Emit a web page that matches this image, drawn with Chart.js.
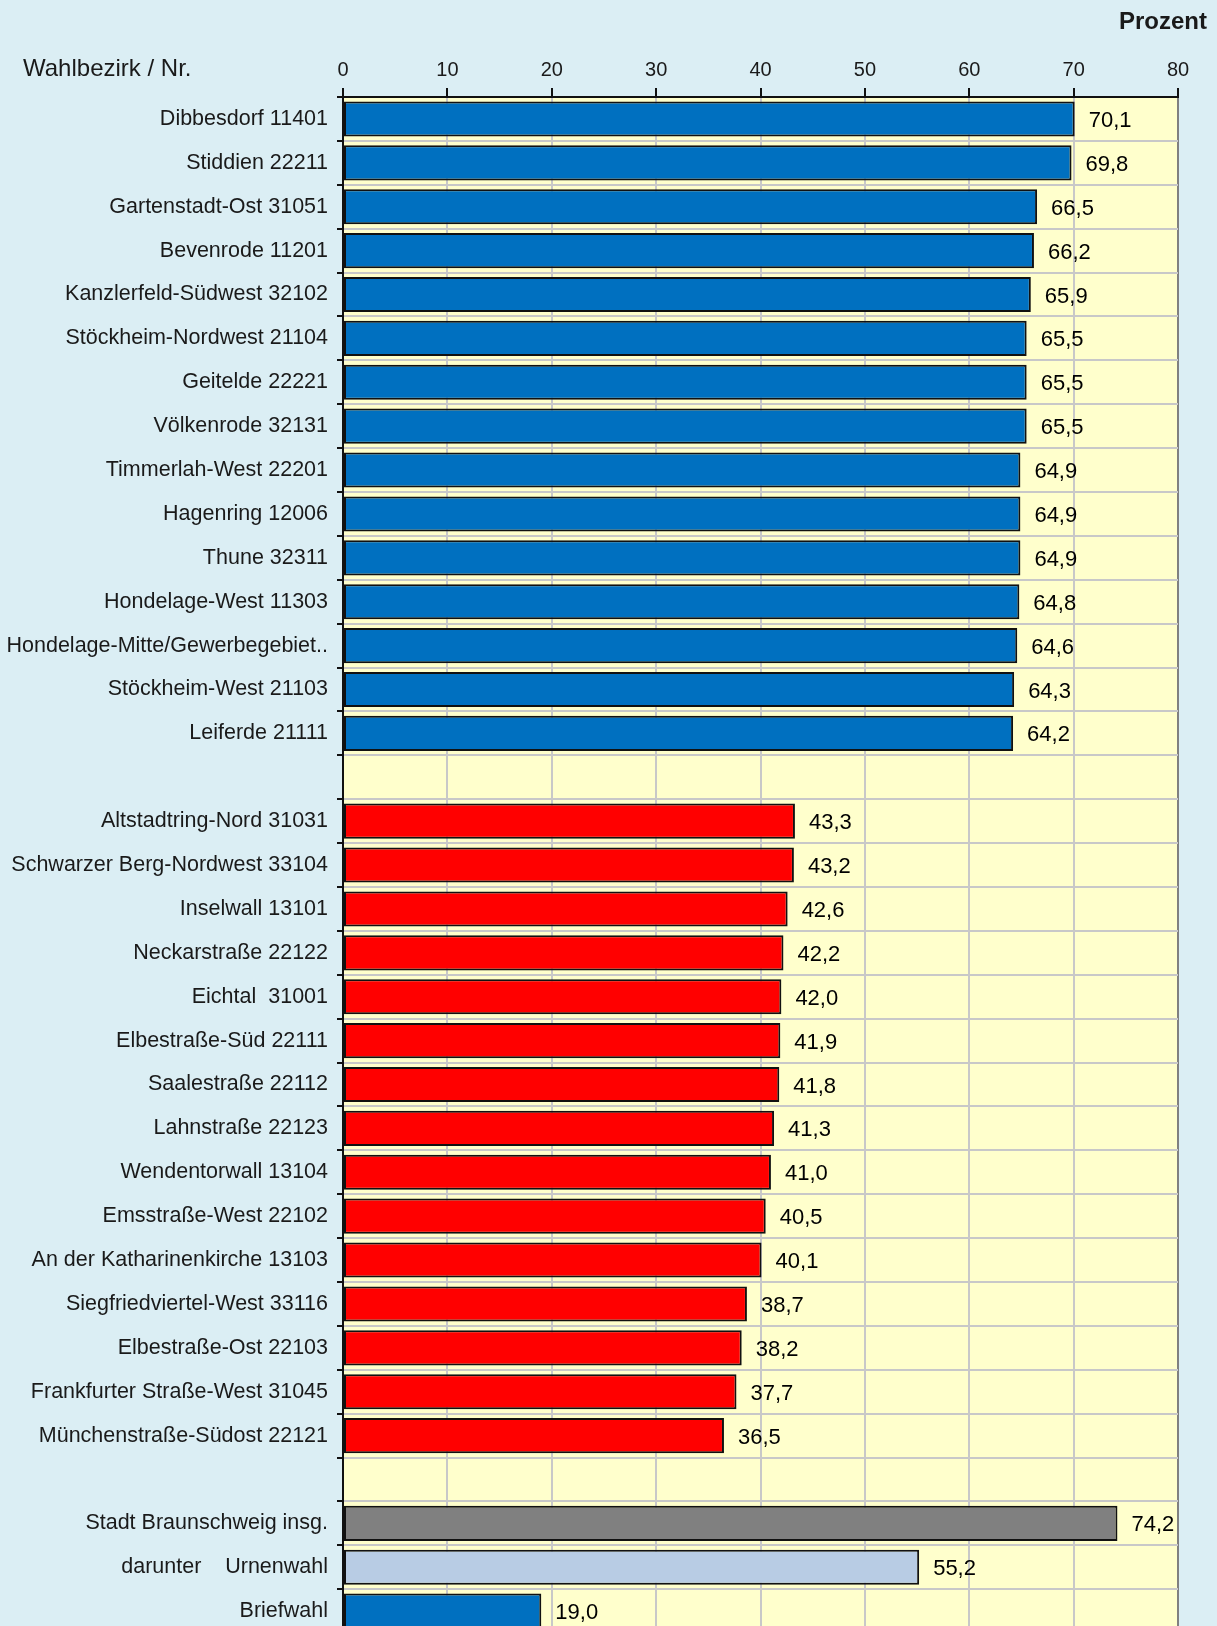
<!DOCTYPE html>
<html>
<head>
<meta charset="utf-8">
<script src="https://cdn.jsdelivr.net/npm/chart.js@4/dist/chart.umd.min.js"></script>
<style>
  html, body { margin: 0; padding: 0; background: #DBEEF4; overflow: hidden; }
  #wrap { position: relative; width: 1217px; height: 1655px; }
  #c { position: absolute; left: 0; top: 0; }
  .lbl { position: absolute; font-family: "Liberation Sans", Arial, sans-serif; color: #1a1a1a; white-space: nowrap; }
  #yTitle { left: 23px; top: 54px; font-size: 24px; }
  #unit { right: 10px; top: 7px; font-size: 24px; font-weight: bold; }
</style>
</head>
<body>
<div id="wrap">
  <canvas id="c" width="1217" height="1655"></canvas>
  <div class="lbl" id="yTitle">Wahlbezirk / Nr.</div>
  <div class="lbl" id="unit">Prozent</div>
</div>
<script>
// ---- data ----
const highLabels = [
  "Dibbesdorf 11401", "Stiddien 22211", "Gartenstadt-Ost 31051", "Bevenrode 11201",
  "Kanzlerfeld-Südwest 32102", "Stöckheim-Nordwest 21104", "Geitelde 22221",
  "Völkenrode 32131", "Timmerlah-West 22201", "Hagenring 12006", "Thune 32311",
  "Hondelage-West 11303", "Hondelage-Mitte/Gewerbegebiet..", "Stöckheim-West 21103",
  "Leiferde 21111"
];
const highValues = [70.1, 69.8, 66.5, 66.2, 65.9, 65.5, 65.5, 65.5, 64.9, 64.9, 64.9, 64.8, 64.6, 64.3, 64.2];

const lowLabels = [
  "Altstadtring-Nord 31031", "Schwarzer Berg-Nordwest 33104", "Inselwall 13101",
  "Neckarstraße 22122", "Eichtal  31001", "Elbestraße-Süd 22111", "Saalestraße 22112",
  "Lahnstraße 22123", "Wendentorwall 13104", "Emsstraße-West 22102",
  "An der Katharinenkirche 13103", "Siegfriedviertel-West 33116", "Elbestraße-Ost 22103",
  "Frankfurter Straße-West 31045", "Münchenstraße-Südost 22121"
];
const lowValues = [43.3, 43.2, 42.6, 42.2, 42.0, 41.9, 41.8, 41.3, 41.0, 40.5, 40.1, 38.7, 38.2, 37.7, 36.5];

const totalLabels = ["Stadt Braunschweig insg.", "darunter    Urnenwahl", "Briefwahl"];
const totalValues = [74.2, 55.2, 19.0];

const xTicks = [0, 10, 20, 30, 40, 50, 60, 70, 80];

// ---- build chart table ----
const labels = [...highLabels, " ", ...lowLabels, "  ", ...totalLabels];
const values = [...highValues, null, ...lowValues, null, ...totalValues];
const colors = [
  ...highValues.map(() => "#0070C0"), "rgba(0,0,0,0)",
  ...lowValues.map(() => "#FF0000"), "rgba(0,0,0,0)",
  "#808080", "#B8CCE4", "#0070C0"
];

const plotBg = {
  id: "plotBg",
  beforeDraw(chart) {
    const a = chart.chartArea, ctx = chart.ctx;
    ctx.save();
    ctx.fillStyle = "#FFFFCC";
    ctx.fillRect(a.left, a.top, a.right - a.left, a.bottom - a.top);
    ctx.restore();
  }
};

const valueLabels = {
  id: "valueLabels",
  afterDatasetsDraw(chart) {
    const ctx = chart.ctx;
    const meta = chart.getDatasetMeta(0);
    ctx.save();
    ctx.font = '22px "Liberation Sans", Arial, sans-serif';
    ctx.fillStyle = "#000";
    ctx.textAlign = "left";
    ctx.textBaseline = "middle";
    meta.data.forEach((bar, i) => {
      const v = values[i];
      if (v === null) return;
      ctx.fillText(v.toFixed(1).replace(".", ","), bar.x + 14, bar.y + 2);
    });
    ctx.restore();
  }
};

new Chart(document.getElementById("c"), {
  type: "bar",
  data: {
    labels: labels,
    datasets: [{
      data: values,
      backgroundColor: colors,
      borderColor: "#111",
      borderWidth: 2,
      borderSkipped: false,
      barPercentage: 0.8,
      categoryPercentage: 1.0
    }]
  },
  options: {
    indexAxis: "y",
    responsive: false,
    animation: false,
    layout: { padding: { left: 0, right: 39, top: 0, bottom: 0 } },
    plugins: { legend: { display: false }, tooltip: { enabled: false } },
    scales: {
      x: {
        position: "top",
        min: 0, max: 80,
        afterBuildTicks(axis) { axis.ticks = xTicks.map(v => ({ value: v })); },
        afterFit(axis) { axis.height = 97; },
        ticks: {
          font: { family: '"Liberation Sans", Arial, sans-serif', size: 20 },
          color: "#1a1a1a",
          padding: 6
        },
        grid: {
          color: ctx => (ctx.tick && ctx.tick.value === 80) ? "#808080" : "#C8C8C8",
          lineWidth: 2,
          tickColor: "#111",
          tickLength: 9
        },
        border: { color: "#111", width: 2 }
      },
      y: {
        afterFit(axis) { axis.width = 343; },
        ticks: {
          font: { family: '"Liberation Sans", Arial, sans-serif', size: 21.5 },
          color: "#1a1a1a",
          padding: 9,
          autoSkip: false
        },
        grid: {
          offset: true,
          color: "#C8C8C8",
          lineWidth: 2,
          tickColor: "#111",
          tickLength: 6
        },
        border: { color: "#111", width: 2 }
      }
    }
  },
  plugins: [plotBg, valueLabels]
});
</script>
</body>
</html>
